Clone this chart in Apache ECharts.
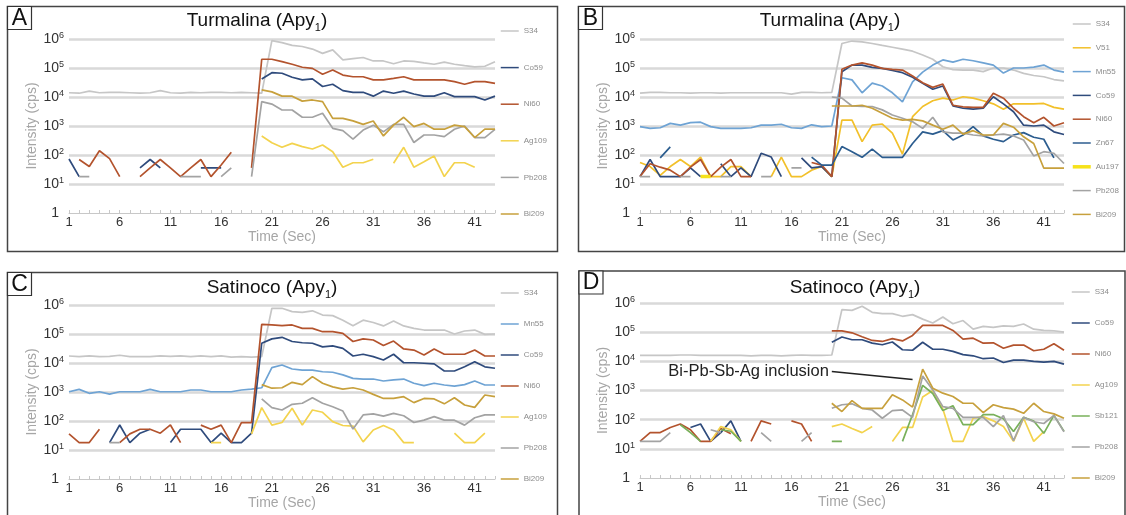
<!DOCTYPE html>
<html>
<head>
<meta charset="utf-8">
<script src="https://cdn.jsdelivr.net/npm/echarts@6/dist/echarts.min.js"></script>
<style>
  html, body { margin: 0; padding: 0; background: #fff; }
  #chart { width: 1126px; height: 515px; }
</style>
</head>
<body>
<div id="chart"></div>
<script>
// LA-ICP-MS time-resolved signals (cps) for arsenopyrite Apy1 spots
const _ = null;

const time = ['1','2','3','4','5','6','7','8','9','10','11','12','13','14','15','16','17','18','19','20','21','22',
  '23','24','25','26','27','28','29','30','31','32','33','34','35','36','37','38','39','40','41','42','43'];

// Panel A - Turmalina
const A_S34 = [14000,13500,16000,14000,14500,14500,14000,13500,14000,16500, 14000,13500,14500,14000,14500,14500,14000,14500,14000,13500,
  880000,750000,600000,550000,450000,320000,420000,190000,210000,230000, 175000,175000,140000,175000,170000,150000,135000,160000,135000,120000,
  110000,115000,165000];
const A_Co59 = [73,18,_,_,_,_,_,36,70,36, _,_,_,36,36,36,_,_,_,42000,
  69000,66000,48000,39000,42000,23000,27500,16600,14500,14500, 10700,16000,13500,16000,12700,10700,10700,14000,10300,10300,
  10300,7900,10700];
const A_Ni60 = [_,70,40,140,75,18,_,18,36,70, 36,18,36,70,18,45,125,_,36,200000,
  200000,165000,135000,106000,97000,61000,85000,57000,50000,50000, 39000,39000,44000,50000,39000,39000,39000,39000,34000,27500,
  34000,34000,29500];
const A_Ag109 = [_,_,_,_,_,_,_,_,_,_, _,_,_,_,_,_,_,_,_,452,
  266,184,252,194,161,221,130,38,54,54, 71,_,52,184,38,58,92,18,54,54,
  38,_,_];
const A_Pb208 = [_,18,18,_,_,_,_,_,_,_, _,18,18,18,_,18,36,_,18,6900,
  5700,3560,3560,2000,2000,2750,830,690,355,725, 1070,630,1140,1140,270,490,490,430,770,1000,
  400,400,770];
const A_Bi209 = [_,_,_,_,_,_,_,_,_,_, _,_,_,_,_,_,_,_,_,17500,
  15000,10700,10700,7200,7900,6900,1830,1830,1500,1140, 1480,455,1070,2000,950,1230,775,775,1070,950,
  400,775,775];

// Panel B - Turmalina
const B_S34 = [13500,14500,14500,14000,14000,13500,14000,14000,13500,14000, 14000,14000,14000,14000,14000,12500,14500,14500,14000,14500,
  700000,850000,800000,700000,600000,520000,450000,380000,280000,200000, 110000,88000,85000,85000,75000,100000,100000,85000,65000,55000,
  50000,40000,36000];
const B_V51 = [55,40,20,40,70,40,85,18,18,40, 40,18,_,18,85,18,18,30,40,18,
  1600,1600,290,1070,1170,565,107,2100,4700,7400, 9100,7900,10200,9100,7400,5800,3800,5800,5800,5800,
  6000,4400,3800];
const B_Mn55 = [950,830,870,1230,1070,1300,1350,950,830,830, 830,870,1070,1070,1150,870,830,1100,950,1000,
  46000,39000,14000,30000,24000,14000,6800,33000,72000,126000, 190000,160000,200000,178000,150000,126000,67000,100000,100000,107000,
  126000,85000,72000];
const B_Co59 = [18,70,18,18,18,36,18,_,50,18, 36,18,115,85,18,_,80,36,40,18,
  74000,126000,126000,105000,97000,82000,69000,48000,29500,18500, 24000,4900,4100,3800,4100,10200,5800,3100,1070,1000,
  1070,630,510];
const B_Ni60 = [18,50,38,30,18,38,70,18,38,70, 18,18,_,_,_,_,_,55,45,18,
  90000,126000,150000,126000,97000,90000,85000,53000,31000,21500, 28000,5200,4600,4400,4400,13500,9100,4100,2100,1300,
  2000,1000,1300];
const B_Zn67 = [_,_,80,190,_,_,_,_,_,_, _,_,_,_,_,_,_,85,45,45,
  195,130,83,160,83,83,83,250,630,525, 690,330,490,955,455,350,290,490,590,410,
  350,80,_];
const B_Au197 = [_,_,_,_,_,_,18,18,_,_, _,_,_,_,_,_,_,_,_,_,
  _,_,_,_,_,_,_,_,_,_, _,_,_,_,_,_,_,_,_,_,
  _,_,_];
const B_Pb208 = [18,18,_,_,18,18,_,_,18,18, _,_,18,18,_,36,36,_,_,10000,
  9100,4900,4700,4700,3600,2400,1850,1400,830,2000, 630,565,565,490,455,490,525,455,330,93,
  130,115,51];
const B_Bi209 = [_,_,_,_,_,_,_,_,_,_, _,_,_,_,_,_,_,_,_,4900,
  4900,4900,5200,4100,2750,1850,1600,1700,1500,1070, 775,1070,525,690,490,490,1230,910,425,250,
  35,35,35];

// Panel C - Satinoco
const C_S34 = [17400,16500,17500,16500,17000,18500,16500,16500,16500,17500, 17000,17500,16500,17500,16500,17500,16000,16500,16000,16500,
  770000,770000,590000,560000,630000,450000,430000,300000,194000,300000, 250000,190000,280000,190000,157000,137000,137000,137000,100000,127000,
  137000,97000,100000];
const C_Mn55 = [1020,1230,900,1020,850,1020,1020,1020,1230,1020, 1020,1020,1170,1170,1020,1020,1020,1170,1260,1400,
  6900,8500,6200,5700,5700,5000,4800,3900,2950,2800, 2800,2400,2600,2800,2000,1660,2000,1740,1600,1800,
  2400,1740,1740];
const C_Co59 = [_,_,_,_,18,73,18,38,52,_, 18,52,52,52,18,38,18,18,38,48000,
  68000,77000,55000,50000,48000,36000,39000,32000,17400,20000, 16600,12700,20000,10200,10200,9800,9300,5300,5300,7400,
  11000,7400,6600];
const C_Ni60 = [36,18,18,52,_,18,36,52,52,38, 73,18,_,72,52,72,18,88,88,215000,
  205000,194000,205000,157000,157000,120000,120000,105000,55000,68000, 62000,40000,57000,30500,28000,19000,30500,20000,20000,20000,
  28000,17400,17400];
const C_Ag109 = [_,_,_,_,_,_,_,_,_,_, _,_,_,_,18,18,_,_,36,290,
  72,89,275,72,240,200,95,70,67,19, 49,70,49,18,18,_,_,_,38,18,
  18,38,_];
const C_Pb208 = [_,_,_,_,18,18,_,_,_,_, _,_,_,_,_,_,_,_,_,575,
  290,240,375,410,635,410,310,220,53,162, 175,148,183,152,89,107,141,107,107,72,
  129,162,162];
const C_Bi209 = [_,_,_,_,_,_,_,_,_,_, _,_,_,_,_,_,_,_,_,1800,
  1350,1400,2150,1800,3400,2000,1500,1260,1400,1170, 830,600,600,690,430,600,575,390,635,355,
  295,790,690];

// Panel D - Satinoco
const D_S34 = [16000,16000,16000,16000,16500,16500,16000,16000,16000,16000, 16000,15500,16000,16000,15500,16000,16500,16000,16000,16500,
  590000,560000,770000,480000,430000,430000,350000,400000,280000,205000, 330000,194000,250000,127000,158000,145000,165000,158000,190000,127000,
  115000,112000,100000];
const D_Co59 = [_,_,_,_,_,54,71,18,36,91, 18,_,_,_,_,_,_,_,_,45000,
  68000,55000,55000,42000,37000,46000,25000,24000,45000,26000, 26000,22000,17000,15500,12300,13000,9100,11000,11000,10000,
  9400,10000,8000];
const D_Ni60 = [18,36,36,54,71,45,18,18,50,33, _,18,91,71,_,91,71,18,_,110000,
  110000,95000,70000,52000,48000,60000,50000,77000,170000,170000, 170000,115000,58000,62000,42000,43000,28000,36000,36000,23000,
  26000,40000,24000];
const D_Ag109 = [_,_,_,_,_,_,_,18,58,45, 18,_,_,_,_,_,_,_,_,58,
  71,50,36,58,_,18,54,54,600,1000, 230,18,18,112,127,91,58,18,112,18,
  39,_,_];
const D_Sb121 = [_,_,_,_,67,36,18,_,45,40, 18,_,_,_,_,_,_,_,_,18,
  18,_,_,_,_,_,18,150,1500,790, 205,300,68,68,150,150,107,39,120,90,
  34,140,40];
const D_Pb208 = [18,18,18,36,_,_,_,45,36,_, _,_,36,18,_,_,18,36,_,245,
  325,350,245,215,112,205,215,120,3150,1050, 280,245,120,120,120,58,138,19,120,85,
  74,140,38];
const D_Bi209 = [_,_,_,_,_,_,_,_,_,_, _,_,_,_,_,_,_,_,_,365,
  190,450,245,245,245,710,475,270,5400,1200, 810,620,365,365,175,325,260,230,165,365,
  190,158,112];

// annotation anchor points [category index, cps]
const inclusionFrom = [19, 4500];
const inclusionTo = [27, 2400];

const FONT = "'Liberation Sans', Arial, sans-serif";
const colors = {
  S34: '#c6c6c6', V51: '#f2c02a', Mn55: '#6ea3d4', Co59: '#2f4b7c', Ni60: '#b3532d',
  Zn67: '#2c5d8f', Au197: '#f6e21a', Ag109: '#f3d34e', Sb121: '#78b05a', Pb208: '#a3a3a3', Bi209: '#c7a03c'
};
const widths = { Au197: 3.5 };

const panels = [
  { title: 'Turmalina', tx: 257, ty: 21, letter: 'A', frame: [7.5, 6.5, 550, 245],
    grid: { left: 69, top: 39, width: 426, height: 174 },
    legend: { left: 500, top: 27, itemGap: 28.6 },
    series: [['S34', A_S34], ['Co59', A_Co59], ['Ni60', A_Ni60], ['Ag109', A_Ag109], ['Pb208', A_Pb208], ['Bi209', A_Bi209]] },
  { title: 'Turmalina', tx: 830, ty: 21, letter: 'B', frame: [578.5, 6.5, 546, 245],
    grid: { left: 640, top: 39, width: 424, height: 174 },
    legend: { left: 1071, top: 20, itemGap: 15.8 },
    series: [['S34', B_S34], ['V51', B_V51], ['Mn55', B_Mn55], ['Co59', B_Co59], ['Ni60', B_Ni60], ['Zn67', B_Zn67],
             ['Au197', B_Au197], ['Pb208', B_Pb208], ['Bi209', B_Bi209]] },
  { title: 'Satinoco', tx: 272, ty: 288, letter: 'C', frame: [7.5, 272.5, 550, 250],
    grid: { left: 69, top: 305, width: 426, height: 174 },
    legend: { left: 500, top: 289, itemGap: 23 },
    series: [['S34', C_S34], ['Mn55', C_Mn55], ['Co59', C_Co59], ['Ni60', C_Ni60], ['Ag109', C_Ag109], ['Pb208', C_Pb208], ['Bi209', C_Bi209]] },
  { title: 'Satinoco', tx: 855, ty: 288, letter: 'D', frame: [579, 271, 546, 250],
    grid: { left: 640, top: 303, width: 424, height: 175 },
    legend: { left: 1071, top: 288, itemGap: 23 },
    series: [['S34', D_S34], ['Co59', D_Co59], ['Ni60', D_Ni60], ['Ag109', D_Ag109], ['Sb121', D_Sb121], ['Pb208', D_Pb208], ['Bi209', D_Bi209]] }
];

const chevron = 'path://M0,10 L5,0 L10,10 L8.4,10 L5,3.2 L1.6,10 Z';

const grid = [], xAxis = [], yAxis = [], legend = [], series = [], graphic = [];

panels.forEach((p, g) => {
  grid.push(Object.assign({ containLabel: false }, p.grid));

  xAxis.push({
    type: 'category', gridIndex: g, data: time, boundaryGap: false,
    axisLine: { show: true, lineStyle: { color: '#c8c8c8', width: 1 } },
    axisTick: { show: true, inside: true, interval: 0, length: 3, lineStyle: { color: '#c8c8c8' } },
    axisLabel: { interval: 4, color: '#333', fontSize: 13, margin: 3, fontFamily: FONT },
    splitLine: { show: false },
    name: 'Time (Sec)', nameLocation: 'middle', nameGap: 15,
    nameTextStyle: { color: '#a6a6a6', fontSize: 14, fontFamily: FONT }
  });

  yAxis.push({
    type: 'log', logBase: 10, gridIndex: g, min: 1, max: 1000000,
    axisLine: { show: false }, axisTick: { show: false },
    splitLine: { show: true, showMinLine: false, lineStyle: { color: '#d9d9d9', width: 2.5 } },
    axisLabel: {
      color: '#333', fontSize: 14, lineHeight: 16, margin: 5, fontFamily: FONT,
      formatter: v => (v < 1.5 ? '1{pad| }' : '10{sup|' + Math.round(Math.log10(v)) + '}'),
      rich: {
        sup: { fontSize: 9, lineHeight: 9, verticalAlign: 'top', color: '#333', fontFamily: FONT },
        pad: { width: 5, fontSize: 9 }
      }
    },
    name: 'Intensity (cps)', nameLocation: 'middle', nameGap: 20,
    nameTextStyle: { color: '#a6a6a6', fontSize: 14, fontFamily: FONT }
  });

  legend.push({
    orient: 'vertical', left: p.legend.left, top: p.legend.top, itemGap: p.legend.itemGap,
    itemWidth: 18, itemHeight: 10, padding: 0, selectedMode: false,
    itemStyle: { opacity: 0 },
    lineStyle: { width: 1.5 },
    data: p.series.map(s => ({ name: s[0], lineStyle: { width: widths[s[0]] || 1.5 } })),
    textStyle: { fontSize: 8, color: '#8c8c8c', fontFamily: FONT }
  });

  p.series.forEach(([name, data]) => {
    const s = {
      type: 'line', name, data, xAxisIndex: g, yAxisIndex: g,
      symbol: 'none', showSymbol: false, connectNulls: false, silent: true,
      lineStyle: { color: colors[name], width: widths[name] || 1.7 },
      itemStyle: { color: colors[name] },
      emphasis: { disabled: true }
    };
    if (g === 3 && name === 'Bi209') {
      s.markLine = {
        silent: true, animation: false,
        symbol: ['none', chevron], symbolSize: [0, 11],
        lineStyle: { color: '#222', width: 1.5, type: 'solid' },
        label: { show: true, position: 'start', distance: 3, formatter: 'Bi-Pb-Sb-Ag inclusion',
                 color: '#222', fontSize: 16.5, fontFamily: FONT },
        data: [[{ coord: inclusionFrom }, { coord: inclusionTo }]]
      };
    }
    series.push(s);
  });

  // panel frame and letter tag
  const [fx, fy, fw, fh] = p.frame;
  graphic.push({ type: 'rect', silent: true, shape: { x: fx, y: fy, width: fw, height: fh },
    style: { fill: 'none', stroke: '#444', lineWidth: 1.5 } });
  graphic.push({ type: 'rect', silent: true, shape: { x: fx, y: fy, width: 24, height: 23 },
    style: { fill: '#fff', stroke: '#333', lineWidth: 1.2 } });
  graphic.push({ type: 'text', silent: true, x: fx + 12, y: fy + 12,
    style: { text: p.letter, fontSize: 23, fontFamily: FONT, fill: '#111', align: 'center', verticalAlign: 'middle' } });
  graphic.push({ type: 'text', silent: true, x: p.tx, y: p.ty,
    style: {
      text: p.title + ' (Apy{sub|1})', fontSize: 19, fontFamily: FONT, fill: '#111',
      align: 'center', verticalAlign: 'middle', lineHeight: 24,
      rich: { sub: { fontSize: 11, lineHeight: 9, verticalAlign: 'bottom', fill: '#111', fontFamily: FONT } }
    } });
});

const chart = echarts.init(document.getElementById('chart'), null, { renderer: 'canvas' });
chart.setOption({
  animation: false,
  backgroundColor: '#fff',
  textStyle: { fontFamily: FONT },
  grid, xAxis, yAxis, legend, series, graphic
});
</script>
</body>
</html>
